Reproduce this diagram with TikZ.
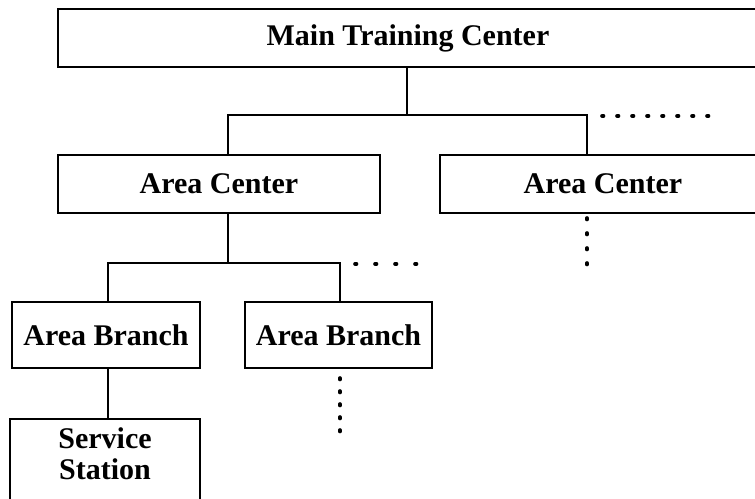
\documentclass[tikz,border=0pt]{standalone}
\usepackage{fontspec}
\setmainfont{Liberation Serif}
\begin{document}
\begin{tikzpicture}[x=1pt,y=-1pt,
  unit/.style={draw, line width=2pt, rectangle, inner sep=0pt,
    font=\bfseries\fontsize{30}{31}\selectfont},
  link/.style={line width=2pt},
  more/.style={line width=3.6pt, line cap=round, dash pattern=on 1.5pt off 13.5pt}]
\useasboundingbox (0,0) rectangle (755,498);
\clip (0,0) rectangle (755,498);

% organisation units
\node[unit, minimum width=700pt, minimum height=58pt] (main) at (408,38) {Main Training Center};
\node[unit, minimum width=322pt, minimum height=58pt] (ac1) at (219,184) {Area Center};
\node[unit, minimum width=326pt, minimum height=58pt] (ac2) at (603,184) {Area Center};
\node[unit, minimum width=188pt, minimum height=66pt] (ab1) at (106,335) {Area Branch};
\node[unit, minimum width=187pt, minimum height=66pt] (ab2) at (338.5,335) {Area Branch};
\node[unit, anchor=north, align=center, minimum width=190pt, inner ysep=9pt,
      text depth=90pt] (ss) at (105,418) {Service\\Station};

% bus junctions
\coordinate (hubA) at (407,115);
\coordinate (busL) at (228,115);
\coordinate (busR) at (587,115);
\coordinate (bbL) at (108,263);
\coordinate (bbR) at (340,263);

% ends of the open (dotted) branches
\coordinate (moreA0) at (602,116);
\coordinate (moreA) at (709,116);
\coordinate (moreB) at (587,266);
\coordinate (moreC0) at (355,264);
\coordinate (moreC) at (417,264);
\coordinate (moreD) at (340,432);

% solid connectors
\draw[link] (main.south -| hubA) -- (hubA);
\draw[link] (ac1.north -| busL) |- (busR) -- (ac2.north -| busR);
\draw[link] (ac1.south -| busL) -- (bbL -| busL);
\draw[link] (ab1.north -| bbL) |- (bbR) -- (ab2.north -| bbR);
\draw[link] (ab1.south -| bbL) -- (ss.north -| bbL);

% dotted continuations
\draw[more] (moreA0) -- (moreA);
\draw[more, shorten <=4pt] (ac2.south -| busR) -- (moreB);
\draw[more, dash pattern=on 1.5pt off 18.5pt] (moreC0) -- (moreC);
\draw[more, dash pattern=on 1.5pt off 11.5pt, shorten <=9pt] (ab2.south -| bbR) -- (moreD);
\end{tikzpicture}
\end{document}
